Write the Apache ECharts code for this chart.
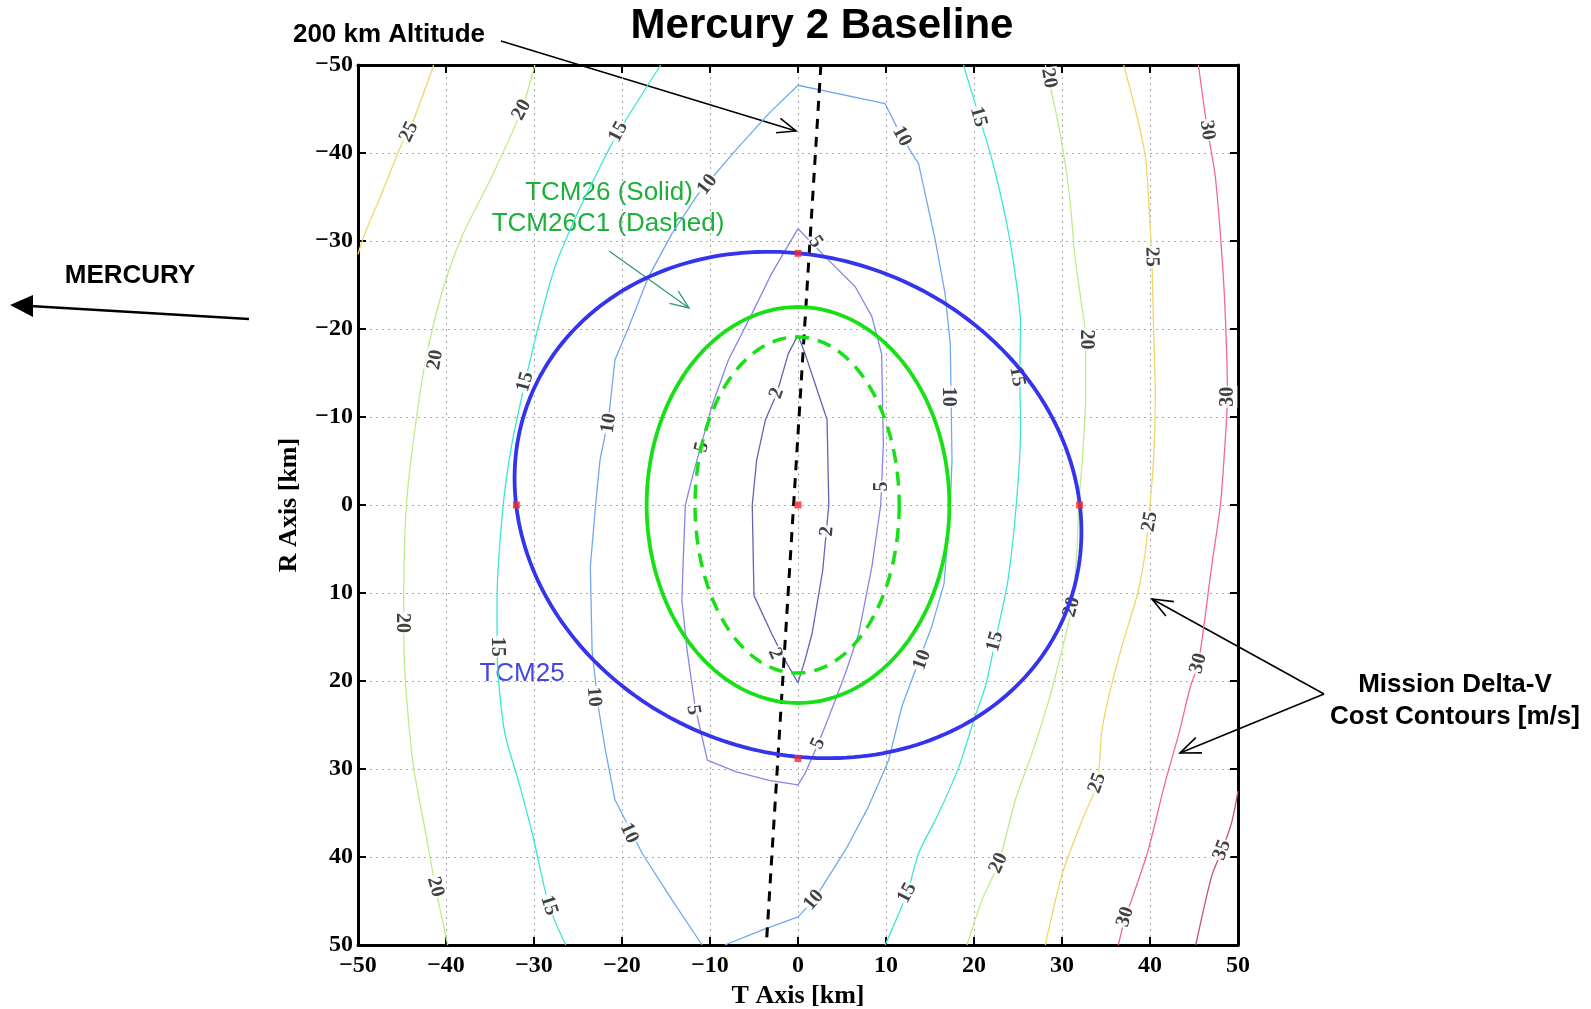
<!DOCTYPE html>
<html>
<head>
<meta charset="utf-8">
<title>Mercury 2 Baseline</title>
<script src="https://cdn.jsdelivr.net/npm/echarts@6/dist/echarts.min.js"></script>
<style>
  html, body { margin: 0; padding: 0; background: #fff; }
  #chart { width: 1591px; height: 1009px; }
</style>
</head>
<body>
<div id="chart"></div>
<script>
// T axis (horizontal) and R axis (vertical, positive down), km
const axisTicks = [-50, -40, -30, -20, -10, 0, 10, 20, 30, 40, 50];

// delta-v cost contours, [T, R] points
const contour2 = [[0, -19.3], [-1.1, -17.2], [-2.4, -12.7], [-3.7, -9.7], [-4.7, -5.1], [-5.2, 0], [-5, 10.3],
  [-3, 14.6], [-1.5, 17.6], [0, 20.2], [0.8, 17.6], [1.6, 14.6], [2.8, 7.5], [3.5, 0], [3.3, -9.7], [2.3, -12.7],
  [0.8, -17.2], [0, -19.3]];
const contour5 = [[0, -31.4], [-3, -26.3], [-5.2, -21.8], [-7.9, -16.5], [-9.8, -11.2], [-12, -3.2], [-12.8, 0],
  [-13, 5.1], [-13.2, 10.8], [-12.6, 16.5], [-11.7, 22.9], [-10.3, 29], [-7.1, 30.3], [-3.3, 31.3], [0, 31.8],
  [0.8, 30.5], [2.3, 27.1], [3.5, 24.1], [5.4, 19.1], [6.9, 14.6], [8.4, 7], [9.4, 0], [9.7, -7], [9.5, -17.2],
  [8.4, -21.4], [6.5, -24.8], [3.1, -28.2], [0, -31.4]];
const contour10 = [[-10.9, 50], [-14.3, 44.9], [-17.7, 39.6], [-20.8, 33.5], [-21.9, 27.8], [-22.7, 22.9],
  [-23.4, 16.5], [-23.6, 7], [-23, 0], [-22.5, -5.1], [-21.5, -10], [-20.8, -16.5], [-19.2, -20.3], [-17, -25.9],
  [-14.3, -30.9], [-11.3, -35.4], [-7.1, -40.3], [-3.3, -44.5], [0, -47.7], [9.9, -45.6], [11.8, -41.8],
  [13.7, -38.8], [15.6, -30.1], [16.7, -24.1], [17.3, -18.4], [17.5, -5.1], [17.3, 0], [16.6, 8.9], [15.2, 13.8],
  [11.8, 22.9], [10.3, 29], [8, 34.3], [5.4, 39.2], [1.8, 44.9], [0, 46.8], [-4.1, 48.3], [-8.3, 50]];
const contour15West = [[-15.6, -50], [-20.4, -42.4], [-21.9, -39.6], [-24.9, -33.5], [-27.6, -27.1],
  [-29.5, -20.3], [-31, -14], [-32.5, -7], [-33.5, 0], [-34.2, 10.8], [-34.2, 16.1], [-34, 20.3], [-33.3, 26],
  [-31.7, 31.6], [-30.2, 37.3], [-28.3, 45.5], [-26.4, 50]];
const contour15East = [[18.8, -50], [20.5, -44.4], [22, -39.4], [23.6, -32.6], [24.7, -26.1], [25.3, -20.5],
  [25.2, -14.8], [25.3, -8.9], [24.8, 0], [23.8, 8.9], [22.4, 15.5], [21.3, 20.6], [20, 24.4], [18.3, 29.7],
  [16, 35], [13.7, 39.6], [12.4, 44.1], [9.9, 50]];
const contour20West = [[-29.9, -50], [-31.4, -44.9], [-34.8, -37.3], [-38.2, -30.5], [-40.5, -24],
  [-42.3, -16.5], [-43.5, -8.9], [-44.5, 0], [-44.8, 10.8], [-44.8, 15], [-44.6, 20.3], [-43.7, 29.7],
  [-42.3, 37.3], [-41.2, 43.4], [-39.8, 50]];
const contour20East = [[28.1, -50], [29.6, -43.2], [30.8, -35.6], [31.5, -28], [32.3, -22.3], [32.7, -18.9],
  [32.7, -12.7], [32.3, -5.1], [31.9, 0], [31.7, 5.1], [31.1, 11.6], [30, 16.5], [28.5, 22.2], [26.6, 28.2],
  [24.7, 33.5], [22.8, 40.7], [20.9, 44.9], [19.2, 50]];
const contour25West = [[-41.4, -50], [-44.2, -42.4], [-45, -41.1], [-47.3, -35.4], [-49.2, -30.9], [-50, -28.5]];
const contour25East = [[37, -50], [38.3, -45.1], [39.5, -39.4], [40, -31.8], [40.2, -28.4], [40.4, -20.3],
  [40.6, -12.7], [40.4, -5.1], [40, 0], [39.5, 5.1], [38.6, 10], [36.8, 16.1], [35.3, 21.8], [34.5, 25.9],
  [34, 31.6], [32.3, 35.8], [30, 42], [28.1, 50]];
const contour30East = [[45.5, -50], [46.5, -42.8], [47.4, -37.5], [48.2, -28], [48.6, -20.5], [48.8, -12.5],
  [48.4, -5.1], [48, 0], [47, 7], [45.5, 18], [44.6, 20.6], [43.3, 25.9], [41.7, 31.6], [39.8, 39.2],
  [37.9, 44.9], [37.2, 46.8], [36.4, 50]];
const contour35East = [[50, 32.5], [49.3, 36], [48.2, 39.2], [47, 42.2], [45.2, 50]];

// [level, points]
const contourSet = [
  [2, contour2], [5, contour5], [10, contour10], [15, contour15West], [15, contour15East],
  [20, contour20West], [20, contour20East], [25, contour25West], [25, contour25East],
  [30, contour30East], [35, contour35East]
];

// inline contour labels: position [T, R], text, text angle (deg)
const labelPoints = [[-44.2, -42.4], [-31.4, -44.9], [-20.4, -42.4], [-10.3, -36.4], [-41.2, -16.5], [-31, -14],
  [-21.5, -9.3], [-10.9, -6.6], [-2.4, -12.7], [2, -29.9], [11.8, -41.9], [20.5, -44.1], [28.5, -48.5],
  [46.5, -42.6], [40.2, -28.2], [32.7, -18.8], [24.9, -14.6], [17.1, -12.3], [48.8, -12.3], [9.5, -2.1],
  [3.3, 3], [40, 1.9], [31.1, 11.6], [45.5, 18], [14.1, 17.6], [22.4, 15.5], [2.3, 27.1], [34, 31.6],
  [22.8, 40.7], [48.2, 39.2], [12.4, 44.1], [1.8, 44.9], [37.2, 46.8], [-45, 13.4], [-34.2, 16.1],
  [-23.2, 21.8], [-11.9, 23.3], [-2.6, 16.9], [-19.2, 37.3], [-41.2, 43.4], [-28.3, 45.5]];
const labelValues = ['25', '20', '15', '10', '20', '15', '10', '5', '2', '5', '10', '15', '20', '30', '25', '20',
  '15', '10', '30', '5', '2', '25', '20', '30', '10', '15', '5', '25', '20', '35', '15', '10', '30', '20', '15',
  '10', '5', '2', '10', '20', '15'];
const labelAngles = [65, 62, 62, 52, 80, 75, 82, 78, 70, -55, -62, -75, -80, -82, -88, -90, -80, -90, 90, 90,
  85, 80, 75, 75, 70, 75, 65, 70, 65, 70, 62, 50, 72, -90, -90, -85, -80, -65, -65, -75, -72];

// B-plane dispersion ellipses: centre T, centre R, semi-axis u, semi-axis v, tilt (deg)
const tcm25Ellipse = [0, 0, 32.8, 28.1, 21.5];
const tcm26Ellipse = [0, 0, 17.2, 22.5, 0];
const tcm26c1Ellipse = [-0.1, 0, 11.6, 19.1, 0];

// aim points and 200 km altitude line
const aimPoints = [[0, -28.6], [-32, 0], [0, 0], [32, 0], [0, 28.8]];
const altitudeLine = [[2.6, -50], [-3.6, 50]];

// ---- styles ----
const levelColor = { 2: '#6262b6', 5: '#8686e8', 10: '#70a8f0', 15: '#3ce6d6', 20: '#bdec8a', 25: '#f2d66a', 30: '#f26a8a', 35: '#c84c7c' };
const serif = '"Liberation Serif", "DejaVu Serif", serif';
const sans = '"Liberation Sans", Arial, sans-serif';
const minus = v => (v < 0 ? '\u2212' + Math.abs(v) : String(v));

function ellipseRenderer(style) {
  return function (params, api) {
    const cT = api.value(0), cR = api.value(1), a = api.value(2), b = api.value(3);
    const tilt = api.value(4) * Math.PI / 180;
    const pts = [];
    for (let k = 0; k <= 240; k++) {
      const t = k / 240 * 2 * Math.PI;
      const u = a * Math.cos(t), v = b * Math.sin(t);
      pts.push(api.coord([cT + u * Math.cos(tilt) - v * Math.sin(tilt), cR + u * Math.sin(tilt) + v * Math.cos(tilt)]));
    }
    return { type: 'polyline', shape: { points: pts }, style: Object.assign({ fill: null }, style) };
  };
}

function head(x1, y1, x2, y2, len, deg) {
  const a = Math.atan2(y2 - y1, x2 - x1), r = deg * Math.PI / 180;
  return [[x2 - len * Math.cos(a - r), y2 - len * Math.sin(a - r)], [x2, y2],
    [x2 - len * Math.cos(a + r), y2 - len * Math.sin(a + r)]];
}

function label(text, x, y, font, color) {
  return {
    type: 'text', silent: true,
    style: { text: text, x: x, y: y, font: font, fill: color, textAlign: 'center', textVerticalAlign: 'middle', align: 'center', verticalAlign: 'middle' }
  };
}

function arrowLine(x1, y1, x2, y2, color, width, len) {
  return [
    { type: 'line', silent: true, shape: { x1: x1, y1: y1, x2: x2, y2: y2 }, style: { stroke: color, lineWidth: width } },
    { type: 'polyline', silent: true, shape: { points: head(x1, y1, x2, y2, len, 22) }, style: { stroke: color, lineWidth: width, fill: null } }
  ];
}

const tickMin = axisTicks[0];
const tickMax = axisTicks[axisTicks.length - 1];
const tickStep = axisTicks[1] - axisTicks[0];

function axisBase(pos, labelMargin, extra) {
  return Object.assign({
    type: 'value', min: tickMin, max: tickMax, interval: tickStep, position: pos,
    axisLine: { show: true, onZero: false, lineStyle: { color: '#000', width: 3 } },
    axisTick: { show: true, inside: true, length: 8, lineStyle: { color: '#000', width: 2 } },
    axisLabel: labelMargin ? {
      show: true, formatter: minus, fontFamily: serif, fontWeight: 'bold', fontSize: 24, color: '#000',
      margin: labelMargin, showMinLabel: true, showMaxLabel: true
    } : { show: false },
    splitLine: labelMargin ? { show: true, lineStyle: { color: '#a9a9a9', width: 1, type: [2, 4] } } : { show: false }
  }, extra);
}

const chart = echarts.init(document.getElementById('chart'), null, { renderer: 'canvas' });

const series = [];
contourSet.forEach(([level, pts]) => {
  series.push({
    type: 'line', data: pts, symbol: 'none', showSymbol: false, silent: true, animation: false, z: 2,
    smooth: level >= 15 ? 0.25 : false,
    lineStyle: { color: levelColor[level], width: 1.3 }
  });
});

series.push({
  type: 'scatter', silent: true, animation: false, z: 3, symbolSize: 1,
  itemStyle: { color: 'rgba(0,0,0,0)' },
  data: labelPoints.map((p, i) => ({
    value: [p[0], p[1]],
    label: { formatter: labelValues[i], rotate: labelAngles[i] }
  })),
  label: {
    show: true, position: 'inside', fontFamily: serif, fontWeight: 'bold', fontSize: 20, color: '#111',
    backgroundColor: '#fff', padding: [0, 1]
  }
});

series.push({
  type: 'line', data: altitudeLine, symbol: 'none', silent: true, animation: false, z: 4,
  lineStyle: { color: '#000', width: 3, type: [10, 8] }
});

series.push({
  type: 'custom', coordinateSystem: 'cartesian2d', data: [tcm26c1Ellipse], silent: true, animation: false, z: 5,
  renderItem: ellipseRenderer({ stroke: '#17e017', lineWidth: 3.5, lineDash: [14, 9] })
});
series.push({
  type: 'custom', coordinateSystem: 'cartesian2d', data: [tcm26Ellipse], silent: true, animation: false, z: 5,
  renderItem: ellipseRenderer({ stroke: '#17e017', lineWidth: 3.8 })
});
series.push({
  type: 'custom', coordinateSystem: 'cartesian2d', data: [tcm25Ellipse], silent: true, animation: false, z: 5,
  renderItem: ellipseRenderer({ stroke: '#3434ec', lineWidth: 3.8 })
});

series.push({
  type: 'scatter', data: aimPoints, symbol: 'rect', symbolSize: 7, silent: true, animation: false, z: 6,
  itemStyle: { color: '#f42a2a' }
});

const annFont = 'bold 26px ' + sans;
const graphics = [
  label('Mercury 2 Baseline', 822, 26, 'bold 42px ' + sans, '#000'),
  label('200 km Altitude', 389, 35, annFont, '#000'),
  label('MERCURY', 130, 276, annFont, '#000'),
  label('Mission Delta-V', 1455, 685, annFont, '#000'),
  label('Cost Contours [m/s]', 1455, 717, annFont, '#000'),
  label('TCM26 (Solid)', 609, 193, '26px ' + sans, '#1bb03a'),
  label('TCM26C1 (Dashed)', 608, 224, '26px ' + sans, '#1bb03a'),
  label('TCM25', 522, 674, '26px ' + sans, '#4646e0'),
  { type: 'line', silent: true, shape: { x1: 249, y1: 319, x2: 30, y2: 306 }, style: { stroke: '#000', lineWidth: 2.5 } },
  { type: 'polygon', silent: true, shape: { points: [[10, 305], [33, 295], [33, 317]] }, style: { fill: '#000' } }
].concat(
  arrowLine(501, 41, 796, 131, '#000', 1.6, 20),
  arrowLine(609, 251, 689, 308, '#2e9a70', 1.3, 20),
  arrowLine(1324, 694, 1152, 599, '#000', 1.6, 22),
  arrowLine(1324, 694, 1180, 753, '#000', 1.6, 22)
);

chart.setOption({
  backgroundColor: '#fff',
  animation: false,
  grid: { left: 358, top: 65, width: 880, height: 880, containLabel: false, outerBoundsMode: 'none' },
  xAxis: [
    axisBase('bottom', 9, {
      name: 'T Axis [km]', nameLocation: 'middle', nameGap: 31,
      nameTextStyle: { fontFamily: serif, fontWeight: 'bold', fontSize: 26, color: '#000' }
    }),
    axisBase('top', 0, {})
  ],
  yAxis: [
    axisBase('left', 5, {
      inverse: true, name: 'R Axis [km]', nameLocation: 'middle', nameGap: 56, nameRotate: 90,
      nameTextStyle: { fontFamily: serif, fontWeight: 'bold', fontSize: 26, color: '#000' }
    }),
    axisBase('right', 0, { inverse: true })
  ],
  series: series,
  graphic: graphics
});
</script>
</body>
</html>
